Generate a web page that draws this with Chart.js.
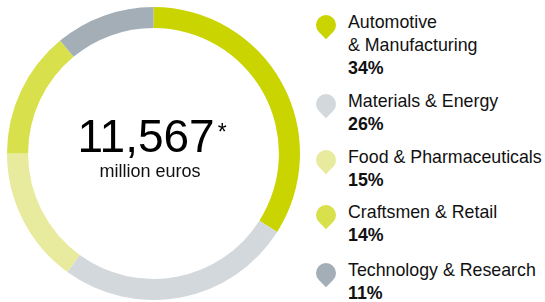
<!DOCTYPE html>
<html>
<head>
<meta charset="utf-8">
<script src="https://cdn.jsdelivr.net/npm/chart.js@4/dist/chart.umd.min.js"></script>
<style>
  html, body { margin: 0; padding: 0; background: #fff; }
  body { width: 545px; height: 302px; position: relative; overflow: hidden;
         font-family: "Liberation Sans", Arial, Helvetica, sans-serif; color: #111; }
  #wrap { position: absolute; left: 7px; top: 7px; width: 293px; height: 293px; }
  #center { position: absolute; left: 0; top: 0; width: 300px; height: 302px; pointer-events: none; }
  #total { position: absolute; left: 0; width: 304px; top: 106px; text-align: center;
           font-size: 46px; line-height: 60px; white-space: nowrap; color: #000; }
  #total sup { font-size: 23px; position: relative; top: 11px; margin-left: 3px; vertical-align: top; line-height: 30px; }
  #unit { position: absolute; left: 0; width: 300px; top: 160px; text-align: center;
          font-size: 18px; line-height: 22px; }
  .item { position: absolute; left: 348px; font-size: 17.8px; line-height: 23px; white-space: pre-line; }
  .item b { display: block; }
  .pin { position: absolute; left: 316px; width: 20px; height: 20px;
         border-radius: 50% 50% 0 50%; transform: rotate(45deg); }
</style>
</head>
<body>
<div id="wrap"><canvas id="c" width="293" height="293"></canvas></div>
<div id="center"><div id="total"></div><div id="unit"></div></div>
<div id="legend"></div>
<script>
const categories = ["Automotive\n& Manufacturing", "Materials & Energy", "Food & Pharmaceuticals", "Craftsmen & Retail", "Technology & Research"];
const shares = [34, 26, 15, 14, 11];
const colors = ["#c9d400", "#d3d8dc", "#e8eb9d", "#d8e04b", "#a3aeb6"];
const totalValue = "11,567";
const totalNote = "*";
const totalUnit = "million euros";
const blockTops = [10.5, 89.5, 145.5, 200.5, 258.5];

new Chart(document.getElementById('c'), {
  type: 'doughnut',
  data: {
    labels: categories,
    datasets: [{ data: shares, backgroundColor: colors, borderWidth: 0, hoverOffset: 0 }]
  },
  options: {
    responsive: false,
    animation: false,
    cutout: '85.6%',
    layout: { padding: 0 },
    plugins: { legend: { display: false }, tooltip: { enabled: false } }
  }
});

document.getElementById('total').innerHTML = totalValue + '<sup>' + totalNote + '</sup>';
document.getElementById('unit').textContent = totalUnit;

const legend = document.getElementById('legend');
categories.forEach((cat, i) => {
  const pin = document.createElement('div');
  pin.className = 'pin';
  pin.style.background = colors[i];
  pin.style.top = (blockTops[i] + 4) + 'px';
  legend.appendChild(pin);
  const item = document.createElement('div');
  item.className = 'item';
  item.style.top = blockTops[i] + 'px';
  item.appendChild(document.createTextNode(cat));
  const b = document.createElement('b');
  b.textContent = shares[i] + '%';
  item.appendChild(b);
  legend.appendChild(item);
});
</script>
</body>
</html>
